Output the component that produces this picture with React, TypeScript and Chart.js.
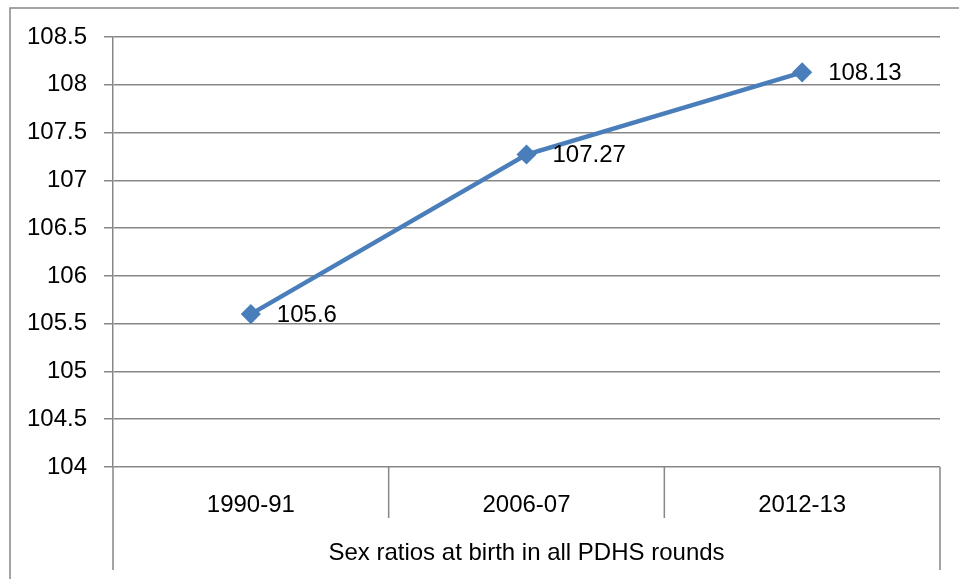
import React, { useEffect, useRef } from "react";
import { Chart, registerables } from "chart.js";

Chart.register(...registerables);

const categories = ["1990-91", "2006-07", "2012-13"];
const sexRatios = [105.6, 107.27, 108.13];
const axisTitle = "Sex ratios at birth in all PDHS rounds";
const yMin = 104;
const yMax = 108.5;
const yStep = 0.5;

const FONT = "'Liberation Sans', Arial, sans-serif";
const FS = 24;
const GRID = "#878787";
const LINE = "#4A7EBB";

const decorPlugin = {
  id: "decor",
  beforeDatasetsDraw(chart: any) {
    const { ctx, chartArea } = chart;
    const xs = chart.scales.x;
    ctx.save();
    ctx.strokeStyle = GRID;
    ctx.lineWidth = 1.5;
    // outer frame
    ctx.beginPath();
    ctx.moveTo(10, 579);
    ctx.lineTo(10, 8);
    ctx.lineTo(959, 8);
    ctx.stroke();
    // multi-level category box
    const bottomOuter = 570;
    const bottomInner = 518;
    ctx.beginPath();
    ctx.moveTo(chartArea.left, chartArea.bottom);
    ctx.lineTo(chartArea.left, bottomOuter);
    ctx.moveTo(chartArea.right, chartArea.bottom);
    ctx.lineTo(chartArea.right, bottomOuter);
    for (let i = 0; i < categories.length - 1; i++) {
      const b = (xs.getPixelForValue(i) + xs.getPixelForValue(i + 1)) / 2;
      ctx.moveTo(b, chartArea.bottom);
      ctx.lineTo(b, bottomInner);
    }
    ctx.stroke();
    ctx.restore();
  },
  afterDatasetsDraw(chart: any) {
    const { ctx } = chart;
    const meta = chart.getDatasetMeta(0);
    ctx.save();
    ctx.font = `${FS}px ${FONT}`;
    ctx.fillStyle = "#000";
    ctx.textAlign = "left";
    ctx.textBaseline = "middle";
    meta.data.forEach((pt: any, i: number) => {
      ctx.fillText(String(sexRatios[i]), pt.x + 26, pt.y + 1);
    });
    ctx.restore();
  },
};

export default function App() {
  const ref = useRef<HTMLCanvasElement>(null);
  useEffect(() => {
    if (!ref.current) return;
    const chart = new Chart(ref.current, {
      type: "line",
      data: {
        labels: categories,
        datasets: [
          {
            data: sexRatios,
            borderColor: LINE,
            backgroundColor: LINE,
            borderWidth: 4.5,
            tension: 0,
            pointStyle: "rectRot",
            pointRadius: 9,
            pointBackgroundColor: LINE,
            pointBorderColor: LINE,
            pointBorderWidth: 1.5,
          },
        ],
      },
      options: {
        animation: false,
        responsive: false,
        devicePixelRatio: 1,
        layout: { padding: { left: 0, top: 37, right: 19, bottom: 0 } },
        plugins: { legend: { display: false }, tooltip: { enabled: false } },
        scales: {
          x: {
            type: "category",
            offset: true,
            afterFit: (s: any) => {
              s.height = 112;
            },
            grid: { display: false },
            border: { display: false },
            ticks: {
              color: "#000",
              font: { family: FONT, size: FS },
              padding: 16,
              maxRotation: 0,
            },
            title: {
              display: true,
              text: axisTitle,
              color: "#000",
              font: { family: FONT, size: FS },
              padding: { top: 0, bottom: 11 },
            },
          },
          y: {
            min: yMin,
            max: yMax,
            afterFit: (s: any) => {
              s.width = 113;
            },
            grid: {
              color: GRID,
              lineWidth: 1.5,
              drawTicks: true,
              tickLength: 9,
            },
            border: { display: true, color: GRID, width: 1.5 },
            ticks: {
              stepSize: yStep,
              color: "#000",
              font: { family: FONT, size: FS },
              padding: 17,
              callback: (v: any) => String(Math.round(Number(v) * 10) / 10),
            },
          },
        },
      },
      plugins: [decorPlugin],
    });
    return () => chart.destroy();
  }, []);
  return (
    <div style={{ position: "absolute", left: 0, top: 0, width: 959, height: 579, background: "#fff" }}>
      <canvas ref={ref} width={959} height={579} style={{ display: "block" }} />
    </div>
  );
}
